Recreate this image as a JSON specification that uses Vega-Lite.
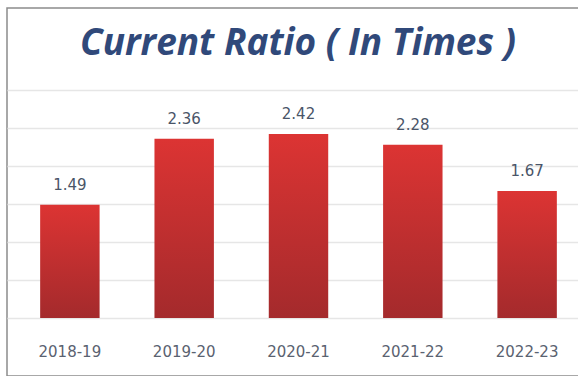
{
  "$schema": "https://vega.github.io/schema/vega-lite/v6.json",
  "autosize": "none",
  "padding": {"left": 7, "top": 8, "right": 0, "bottom": 0},
  "width": 583,
  "height": 368,
  "background": "white",
  "title": {
    "text": "Current Ratio ( In Times )",
    "anchor": "start",
    "frame": "group",
    "orient": "top",
    "offset": -46,
    "dx": 73,
    "dy": 38,
    "baseline": "alphabetic",
    "font": "Open Sans",
    "fontSize": 37,
    "fontWeight": "bold",
    "fontStyle": "italic",
    "color": "#30497A"
  },
  "config": {
    "view": {"stroke": "#8C8C8C", "strokeWidth": 1.5},
    "font": "DejaVu Sans"
  },
  "data": {
    "values": [
      {"year": "2018-19", "ratio": 1.49},
      {"year": "2019-20", "ratio": 2.36},
      {"year": "2020-21", "ratio": 2.42},
      {"year": "2021-22", "ratio": 2.28},
      {"year": "2022-23", "ratio": 1.67}
    ]
  },
  "encoding": {
    "x": {
      "field": "year",
      "type": "nominal",
      "axis": null,
      "scale": {"paddingInner": 0.48, "paddingOuter": 0.29}
    }
  },
  "layer": [
    {
      "mark": {
        "type": "bar",
        "color": {
          "gradient": "linear",
          "x1": 0, "y1": 0, "x2": 0, "y2": 1,
          "stops": [
            {"offset": 0, "color": "#DC3433"},
            {"offset": 1, "color": "#A42A2C"}
          ]
        }
      },
      "encoding": {
        "y": {
          "field": "ratio",
          "type": "quantitative",
          "scale": {"domain": [-0.763, 4.079], "nice": false, "zero": false},
          "axis": {
            "values": [0, 0.5, 1, 1.5, 2, 2.5, 3],
            "labels": false,
            "ticks": false,
            "domain": false,
            "title": null,
            "grid": true,
            "gridColor": "#E6E6E6",
            "gridWidth": 1.5
          }
        },
        "y2": {"datum": 0}
      }
    },
    {
      "mark": {
        "type": "text",
        "baseline": "bottom",
        "dy": -12,
        "fontSize": 15,
        "color": "#4A5568"
      },
      "encoding": {
        "y": {"field": "ratio", "type": "quantitative"},
        "text": {"field": "ratio", "type": "quantitative", "format": ".2f"}
      }
    },
    {
      "mark": {
        "type": "text",
        "baseline": "middle",
        "fontSize": 15,
        "color": "#5A6270"
      },
      "encoding": {
        "y": {"datum": -0.45},
        "text": {"field": "year", "type": "nominal"}
      }
    }
  ]
}
